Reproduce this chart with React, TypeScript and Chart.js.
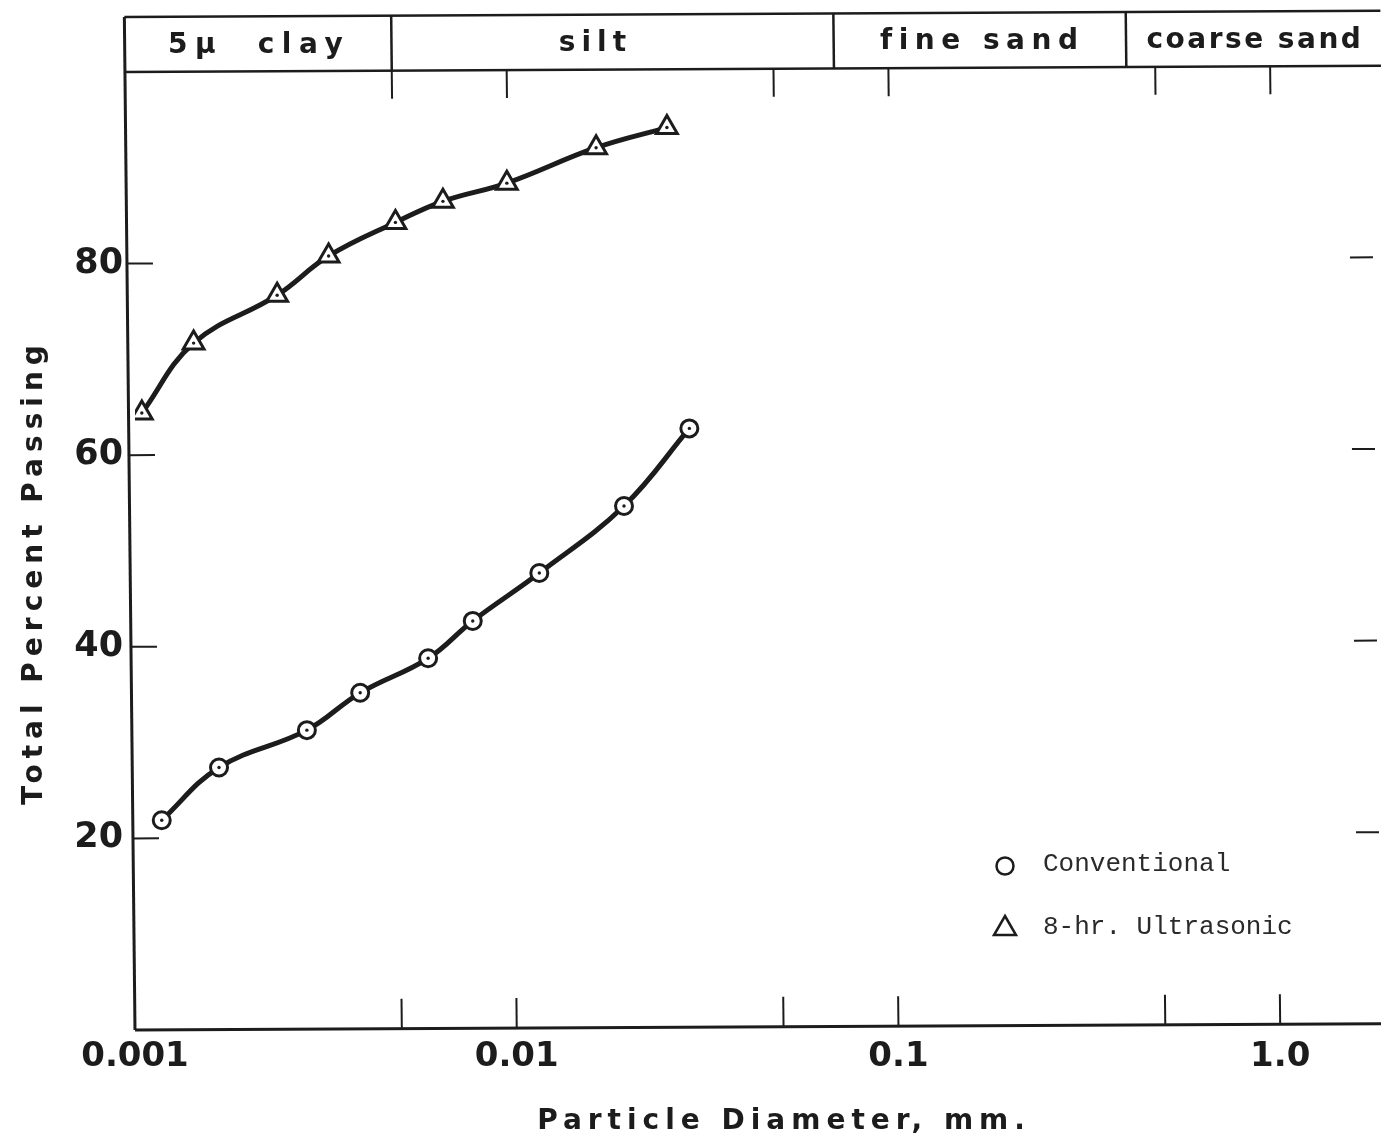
import React, { useEffect, useRef } from 'react';
import { Chart, registerables } from 'chart.js';

Chart.register(...registerables);

// ---- data ----
const conventionalDiameter = [0.001175, 0.00166, 0.00282, 0.00389, 0.00586, 0.00767, 0.01146, 0.0191, 0.02833];
const conventionalPassing = [21.9, 27.4, 31.3, 35.2, 38.8, 42.7, 47.7, 54.7, 62.8];
const ultrasonicDiameter = [0.001042, 0.001424, 0.002357, 0.003215, 0.004811, 0.006407, 0.009421, 0.01614, 0.02474];
const ultrasonicPassing = [64.4, 71.7, 76.7, 80.8, 84.3, 86.5, 88.4, 92.1, 94.2];
const seriesNames = ['Conventional', '8-hr. Ultrasonic'];

const xTickValues = [0.001, 0.01, 0.1, 1];
const xTickLabels = ['0.001', '0.01', '0.1', '1.0'];
const xMarkValues = [0.005, 0.01, 0.05, 0.1, 0.5, 1];
const yTickValues = [20, 40, 60, 80];
const yTickLabels = ['20', '40', '60', '80'];

const bandNames = ['5μ  clay', 'silt', 'fine sand', 'coarse sand'];
const bandDividers = [0.005, 0.072, 0.42];
const bandLabelAt = [0.0022, 0.0168, 0.173, 0.907];

const xTitle = 'Particle Diameter, mm.';
const yTitle = 'Total Percent Passing';

const X_MIN = 0.001;
const X_MAX = 1.837;
const Y_MIN = 0;
const Y_MAX = 100;

// ---- styles ----
const INK = '#1c1c1c';
const BOLD = '"DejaVu Sans", sans-serif';
const MONO = '"Liberation Mono", "DejaVu Sans Mono", monospace';
const bandSpacing = [7.5, 6, 6.5, 2.5];

const scanFrame = {
  id: 'scanFrame',
  afterDatasetsDraw(chart: any) {
    const ctx = chart.ctx;
    chart.data.datasets.forEach((_ds: any, i: number) => {
      const meta = chart.getDatasetMeta(i);
      ctx.save();
      ctx.fillStyle = INK;
      meta.data.forEach((pt: any) => {
        ctx.beginPath();
        ctx.arc(pt.x, pt.y, 1.7, 0, Math.PI * 2);
        ctx.fill();
      });
      ctx.restore();
    });
  },
  afterDraw(chart: any) {
    const { ctx, chartArea: a, scales } = chart;
    const xs = scales.x;
    const ys = scales.y;
    const T = (x: number, y: number): [number, number] => [
      x - 0.0105 * (a.bottom - y),
      y - 0.005 * (x - a.left),
    ];
    const line = (x1: number, y1: number, x2: number, y2: number, w: number) => {
      const p = T(x1, y1);
      const q = T(x2, y2);
      ctx.lineWidth = w;
      ctx.beginPath();
      ctx.moveTo(p[0], p[1]);
      ctx.lineTo(q[0], q[1]);
      ctx.stroke();
    };
    ctx.save();
    ctx.strokeStyle = INK;
    ctx.lineCap = 'butt';
    const bandTop = 17;
    // axes
    line(a.left, bandTop, a.left, a.bottom, 3);
    line(a.left, a.bottom, a.right + 10, a.bottom, 3);
    // classification band
    line(a.left, bandTop, a.right + 10, bandTop, 2.5);
    line(a.left, a.top, a.right + 10, a.top, 2.5);
    bandDividers.forEach((v) => {
      const px = xs.getPixelForValue(v);
      line(px, bandTop, px, a.top, 2.5);
    });
    // x marks
    xMarkValues.forEach((v) => {
      const px = xs.getPixelForValue(v);
      line(px, a.top, px, a.top + 28, 2);
      line(px, a.bottom - 30, px, a.bottom, 2);
    });
    // y marks
    yTickValues.forEach((v) => {
      const py = ys.getPixelForValue(v);
      line(a.left, py, a.left + 26, py, 2);
      line(a.right - 23, py, a.right, py, 2);
    });
    // band labels
    ctx.fillStyle = INK;
    ctx.font = `bold 28px ${BOLD}`;
    ctx.textAlign = 'center';
    ctx.textBaseline = 'middle';
    bandNames.forEach((n, i) => {
      const p = T(xs.getPixelForValue(bandLabelAt[i]), 46);
      ctx.letterSpacing = `${bandSpacing[i]}px`;
      ctx.fillText(n, p[0] + bandSpacing[i] / 2, p[1]);
    });
    // axis titles
    ctx.letterSpacing = '6px';
    ctx.fillText(xTitle, 784, 1122);
    ctx.save();
    ctx.translate(35, 575);
    ctx.rotate(-Math.PI / 2);
    ctx.fillText(yTitle, 3, 0);
    ctx.restore();
    // legend
    ctx.letterSpacing = '0px';
    ctx.font = `26px ${MONO}`;
    ctx.textAlign = 'left';
    ctx.fillStyle = '#2a2a2a';
    const lx = a.left + 870;
    const ly = [866, 927];
    ctx.lineWidth = 2.5;
    ctx.strokeStyle = INK;
    ctx.beginPath();
    ctx.arc(lx, ly[0], 8.5, 0, Math.PI * 2);
    ctx.stroke();
    ctx.beginPath();
    ctx.moveTo(lx, ly[1] - 11);
    ctx.lineTo(lx + 11, ly[1] + 8);
    ctx.lineTo(lx - 11, ly[1] + 8);
    ctx.closePath();
    ctx.stroke();
    ctx.fillText(seriesNames[0], lx + 38, ly[0] - 2);
    ctx.fillText(seriesNames[1], lx + 38, ly[1]);
    ctx.restore();
  },
};

export default function App() {
  const ref = useRef<HTMLCanvasElement | null>(null);
  useEffect(() => {
    if (!ref.current) return;
    const mk = (xs: number[], ys: number[]) => xs.map((x, i) => ({ x, y: ys[i] }));
    const common = {
      showLine: true,
      borderColor: INK,
      borderWidth: 5,
      tension: 0.4,
      pointBackgroundColor: '#ffffff',
      pointBorderColor: INK,
      pointBorderWidth: 3,
    };
    const chart = new Chart(ref.current, {
      type: 'scatter',
      data: {
        datasets: [
          {
            ...common,
            label: seriesNames[0],
            data: mk(conventionalDiameter, conventionalPassing),
            pointStyle: 'circle',
            pointRadius: 8.5,
          },
          {
            ...common,
            label: seriesNames[1],
            data: mk(ultrasonicDiameter, ultrasonicPassing),
            pointStyle: 'triangle',
            pointRadius: 12,
          },
        ],
      },
      options: {
        animation: false,
        responsive: false,
        devicePixelRatio: 1,
        layout: { autoPadding: false, padding: { top: 72, left: 0, right: 0, bottom: 0 } },
        plugins: { legend: { display: false }, tooltip: { enabled: false } },
        scales: {
          x: {
            type: 'logarithmic',
            min: X_MIN,
            max: X_MAX,
            grid: { display: false, drawTicks: false },
            border: { display: false },
            afterBuildTicks: (s: any) => {
              s.ticks = xTickValues.map((v) => ({ value: v }));
            },
            afterFit: (s: any) => {
              s.height = 110;
              s.paddingLeft = 0;
              s.paddingRight = 0;
            },
            ticks: {
              autoSkip: false,
              maxRotation: 0,
              padding: 7,
              color: INK,
              font: { family: BOLD, weight: 'bold', size: 34 },
              callback: (_v: any, i: number) => xTickLabels[i],
            },
          },
          y: {
            type: 'linear',
            min: Y_MIN,
            max: Y_MAX,
            grid: { display: false, drawTicks: false },
            border: { display: false },
            afterBuildTicks: (s: any) => {
              s.ticks = yTickValues.map((v) => ({ value: v }));
            },
            afterFit: (s: any) => {
              s.width = 135;
              s.paddingTop = 0;
              s.paddingBottom = 0;
            },
            ticks: {
              padding: 12,
              color: INK,
              font: { family: BOLD, weight: 'bold', size: 35 },
              callback: (_v: any, i: number) => yTickLabels[i],
            },
          },
        },
      },
      plugins: [scanFrame],
    });
    return () => chart.destroy();
  }, []);
  return (
    <div style={{ position: 'absolute', left: 0, top: 0, width: 1381, height: 1140, background: '#fff', overflow: 'hidden' }}>
      <canvas ref={ref} width={1381} height={1140} style={{ display: 'block' }} />
    </div>
  );
}
